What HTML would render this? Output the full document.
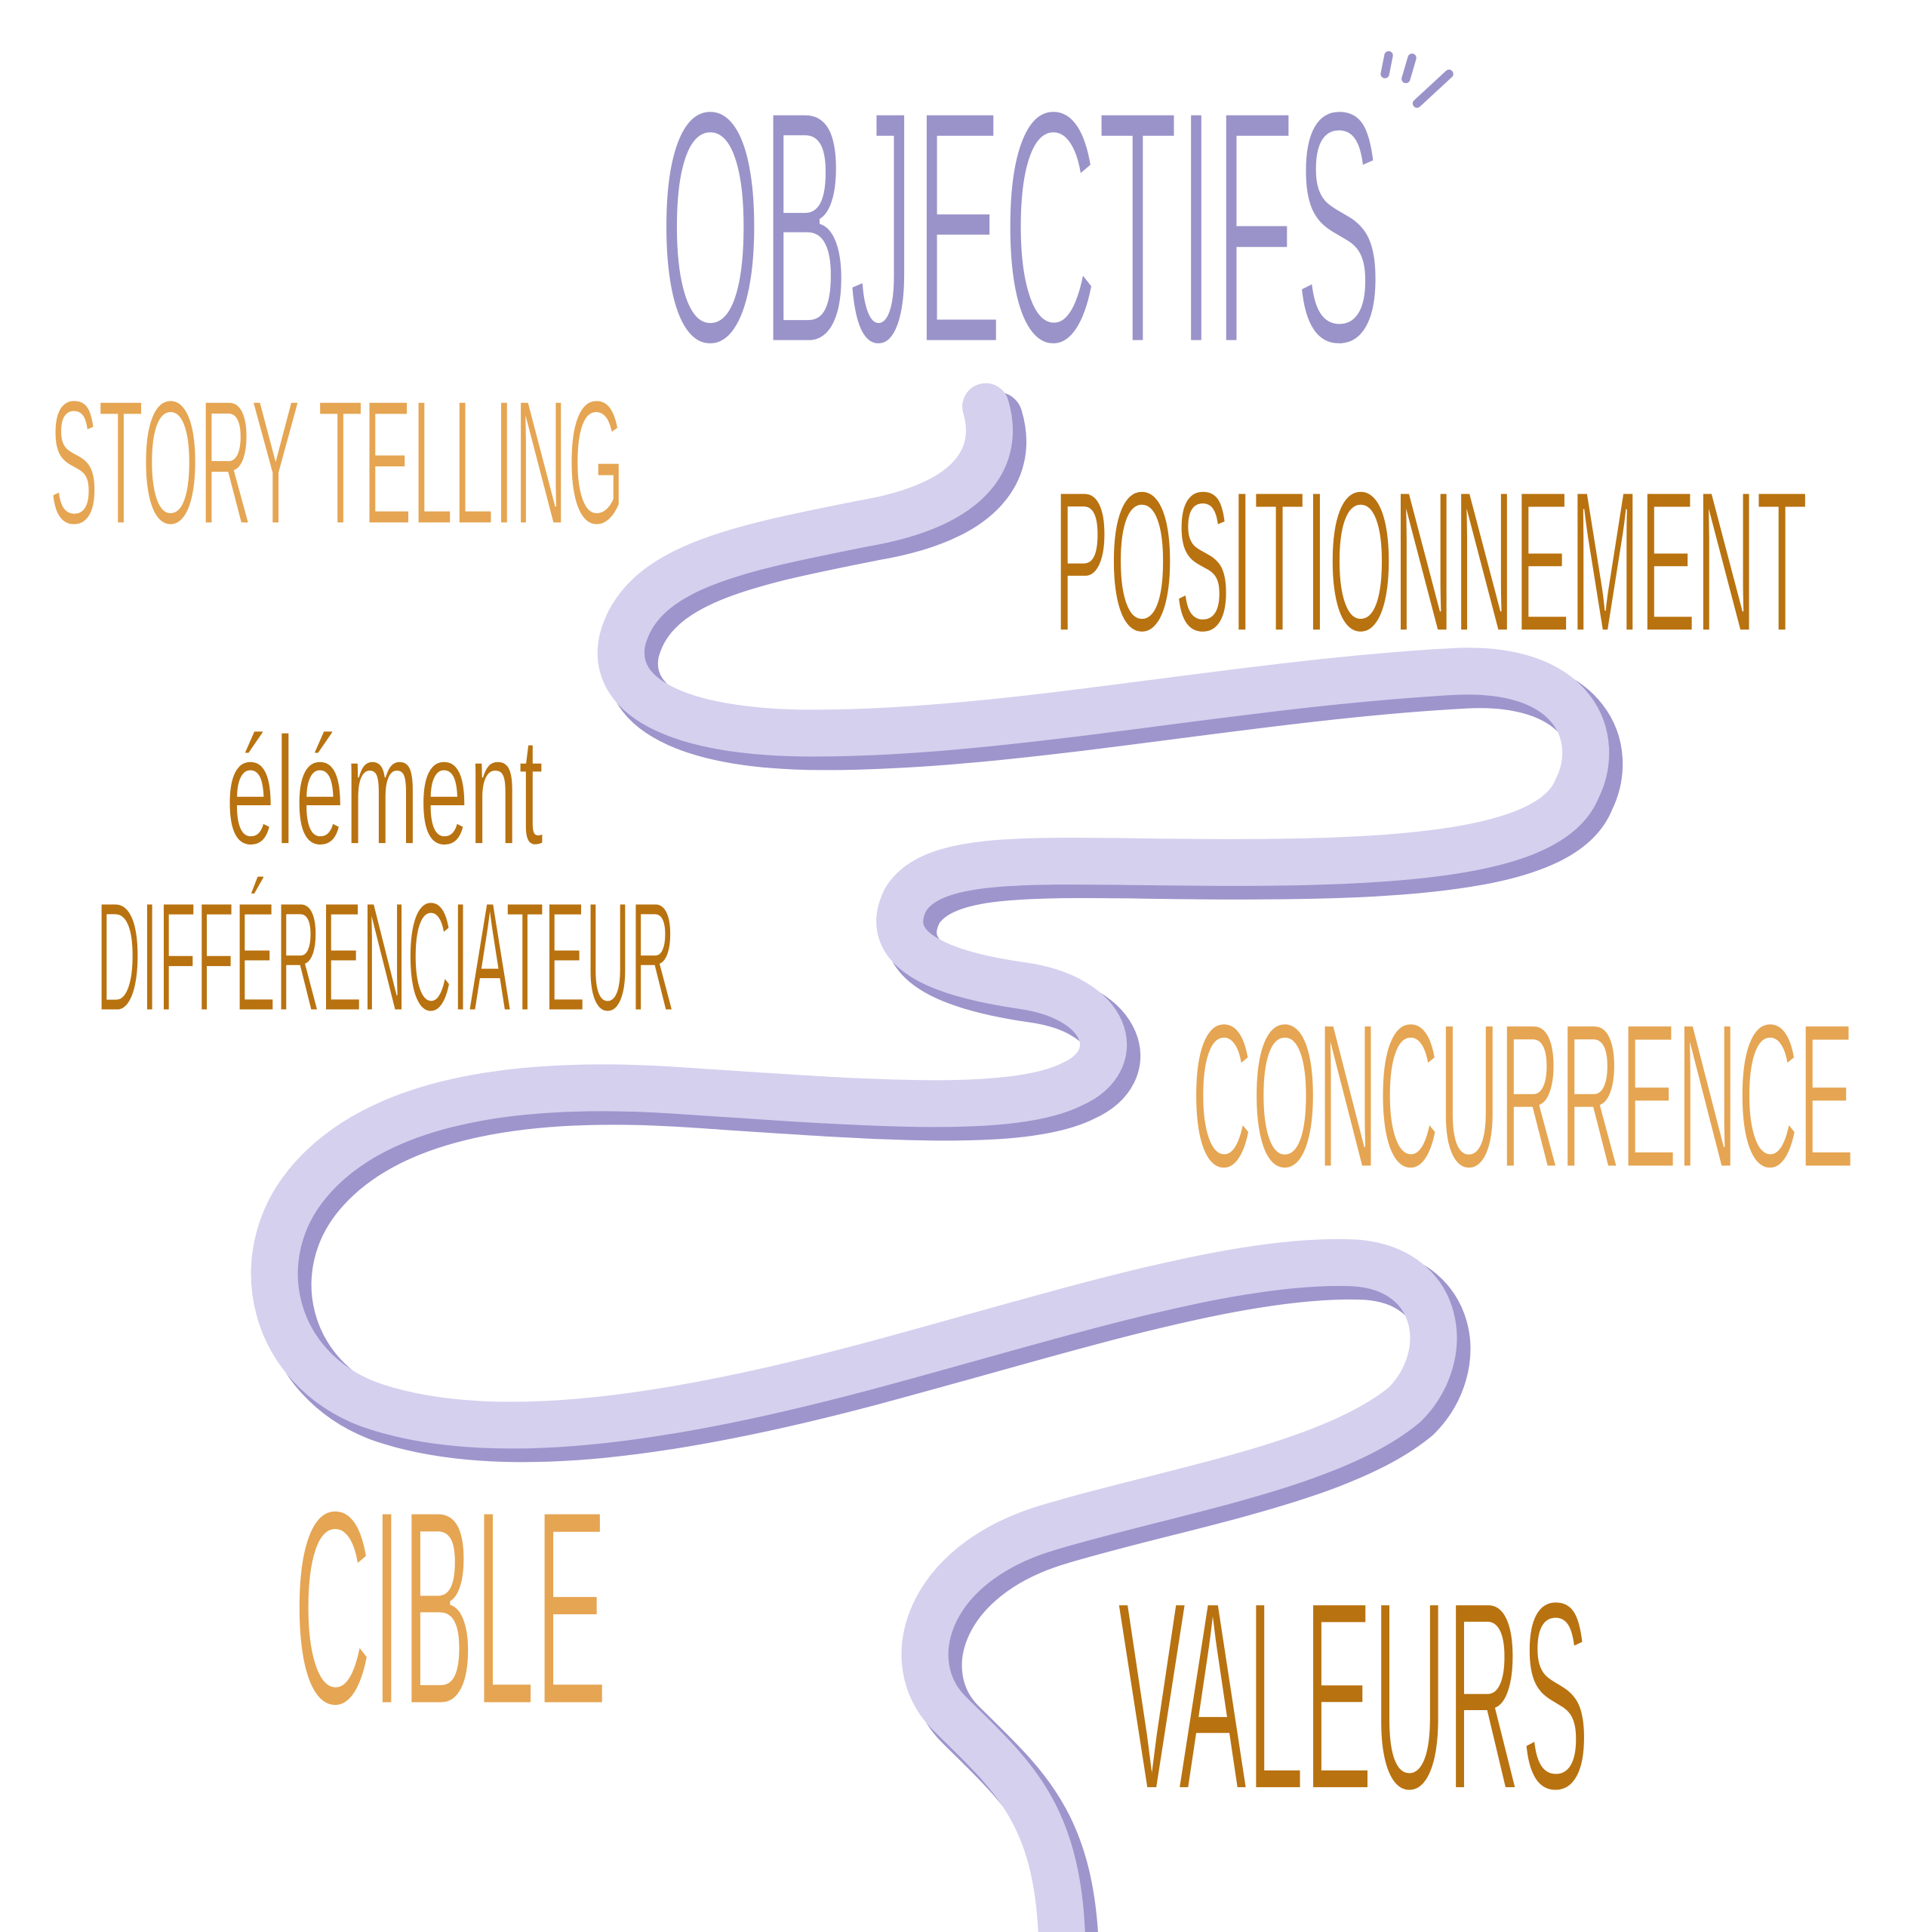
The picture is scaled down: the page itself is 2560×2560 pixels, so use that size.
<!DOCTYPE html>
<html><head><meta charset="utf-8"><style>
html,body{margin:0;padding:0;background:#fff;}
svg{display:block;}
text{font-family:"Liberation Sans Narrow","Liberation Sans",sans-serif;stroke:#fff;}
</style></head><body>
<svg width="2560" height="2560" viewBox="0 0 1568 1568" xmlns="http://www.w3.org/2000/svg">
<rect width="1568" height="1568" fill="#fff"/>
<g fill="none" stroke-linecap="round" stroke-linejoin="round">
<path transform="translate(9,9)" stroke="#9d95cc" stroke-width="42" d="M800,330 C812,370 790,410 700,425 C600,445 520,460 505,520 C495,570 560,595 660,595 C820,595 1000,555 1180,545 C1280,540 1300,600 1280,640 C1260,690 1150,700 1000,700 C850,700 760,690 735,730 C715,770 760,790 830,800 C900,810 915,860 870,880 C820,905 700,895 550,885 C400,875 300,900 250,960 C200,1020 220,1110 300,1140 C400,1175 550,1150 700,1110 C850,1070 1000,1020 1100,1025 C1170,1030 1180,1100 1140,1140 C1080,1190 950,1210 850,1240 C750,1270 730,1350 770,1390 C820,1440 860,1470 862,1580"/>
<path stroke="#d5d0ee" stroke-width="38" d="M800,330 C812,370 790,410 700,425 C600,445 520,460 505,520 C495,570 560,595 660,595 C820,595 1000,555 1180,545 C1280,540 1300,600 1280,640 C1260,690 1150,700 1000,700 C850,700 760,690 735,730 C715,770 760,790 830,800 C900,810 915,860 870,880 C820,905 700,895 550,885 C400,875 300,900 250,960 C200,1020 220,1110 300,1140 C400,1175 550,1150 700,1110 C850,1070 1000,1020 1100,1025 C1170,1030 1180,1100 1140,1140 C1080,1190 950,1210 850,1240 C750,1270 730,1350 770,1390 C820,1440 860,1470 862,1580"/>
<g stroke="#9a93c9" stroke-width="7">
<line x1="1127" y1="45" x2="1124" y2="60"/>
<line x1="1146" y1="47" x2="1141" y2="64"/>
<line x1="1176" y1="60" x2="1150" y2="84"/>
</g>
</g>
<text x="535" y="278" font-size="271" fill="#9a93c9" stroke-width="4" textLength="587" lengthAdjust="spacingAndGlyphs">OBJECTIFS</text>
<text x="40" y="425" font-size="144" fill="#e5a552" stroke-width="2" textLength="467" lengthAdjust="spacingAndGlyphs">STORY TELLING</text>
<text x="855" y="512" font-size="163" fill="#b8720f" stroke-width="2" textLength="612" lengthAdjust="spacingAndGlyphs">POSITIONNEMENT</text>
<text x="183" y="685" font-size="125" fill="#b8720f" stroke-width="1.5" textLength="258" lengthAdjust="spacingAndGlyphs">élément</text>
<text x="78" y="820" font-size="126" fill="#b8720f" stroke-width="1.5" textLength="470" lengthAdjust="spacingAndGlyphs">DIFFÉRENCIATEUR</text>
<text x="967" y="947" font-size="167" fill="#e5a552" stroke-width="2" textLength="538" lengthAdjust="spacingAndGlyphs">CONCURRENCE</text>
<text x="238" y="1383" font-size="226" fill="#e5a552" stroke-width="3" textLength="255" lengthAdjust="spacingAndGlyphs">CIBLE</text>
<text x="907" y="1452" font-size="219" fill="#b8720f" stroke-width="3" textLength="383" lengthAdjust="spacingAndGlyphs">VALEURS</text>
</svg>
</body></html>
